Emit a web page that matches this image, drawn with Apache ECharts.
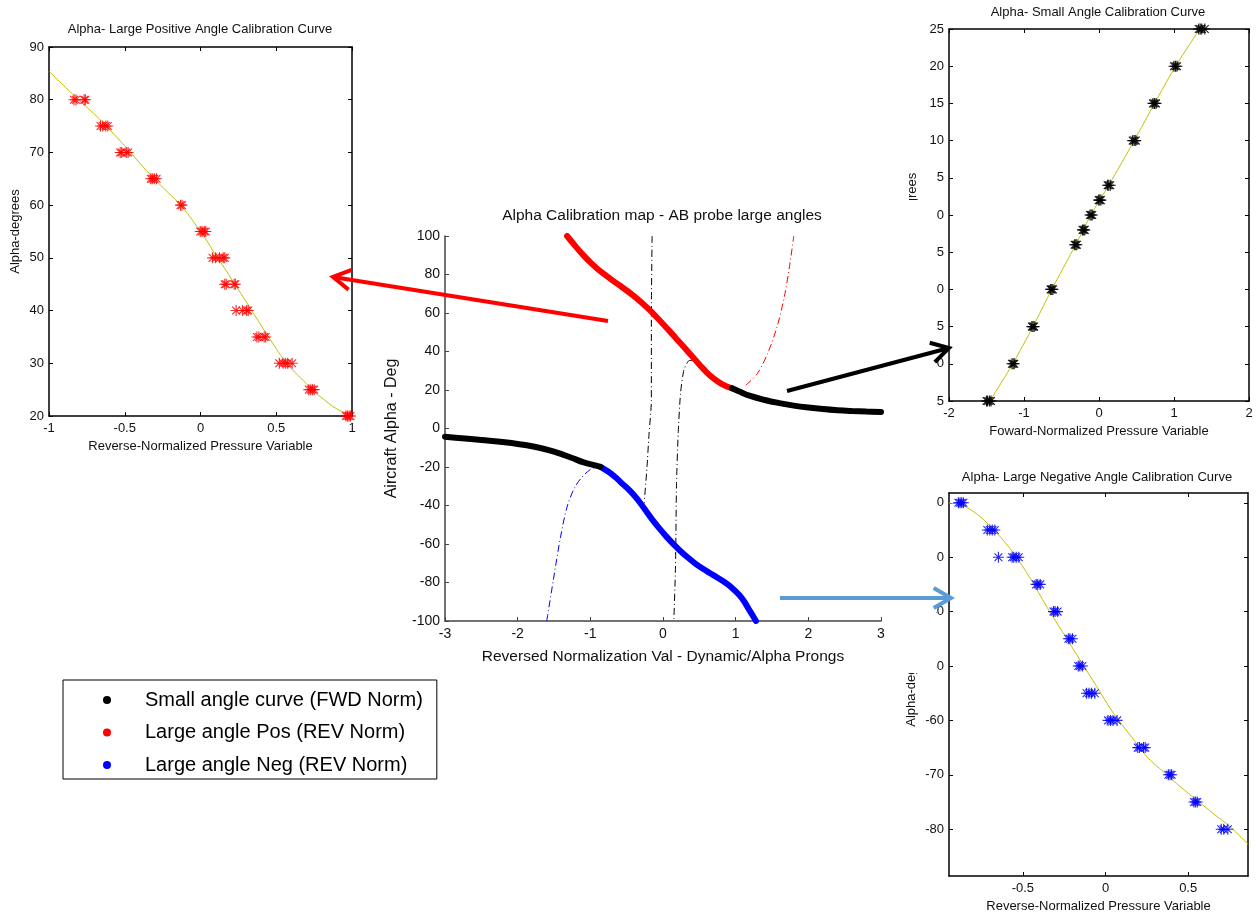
<!DOCTYPE html>
<html><head><meta charset="utf-8">
<script src="https://cdn.jsdelivr.net/npm/echarts@6.0.0/dist/echarts.min.js"></script>
<style>html,body{margin:0;padding:0;background:#fff}#c{width:1260px;height:915px}</style>
</head><body><div id="c"></div>
<script>
// ---------- DATA ----------
// Top-left: large positive angle calibration (red stars + fit)
const posStars = [[-0.835,80],[-0.822,80],[-0.768,80],[-0.76,80],
  [-0.66,75],[-0.645,75],[-0.625,75],[-0.612,75],
  [-0.53,70],[-0.52,70],[-0.49,70],[-0.478,70],
  [-0.328,65],[-0.318,65],[-0.305,65],[-0.29,65],
  [-0.132,60],[-0.122,60],
  [-0.002,55],[0.01,55],[0.025,55],[0.035,55],
  [0.08,50],[0.1,50],[0.125,50],[0.15,50],[0.16,50],
  [0.16,45],[0.17,45],[0.222,45],[0.23,45],
  [0.235,40],[0.278,40],[0.305,40],[0.315,40],
  [0.372,35],[0.385,35],[0.42,35],[0.43,35],
  [0.52,30],[0.545,30],[0.56,30],[0.575,30],[0.605,30],
  [0.715,25],[0.728,25],[0.74,25],[0.75,25],
  [0.96,20],[0.97,20],[0.98,20],[0.99,20]];
const posFit = [[-1,85.4],[-0.824,80.5],[-0.669,76.4],[-0.515,71.7],[-0.42,68.6],[-0.339,66],[-0.24,63.1],
  [-0.14,60.3],[-0.07,57.8],[-0.008,55.3],[0.05,52.9],[0.1,50.5],[0.16,48],[0.213,45.6],[0.27,43.1],
  [0.323,40.7],[0.38,38.1],[0.433,35.7],[0.49,33.2],[0.544,30.9],[0.6,29],[0.654,27.4],[0.71,25.8],
  [0.764,24.3],[0.82,23],[0.874,21.8],[0.93,20.9],[0.97,20.5],[1,20.4]];

// Top-right: small angle calibration (black stars + fit)
const smallStars = [[1.33,25],[1.35,25],[1.37,25],[1.41,25],
  [1.0,20],[1.02,20],[1.04,20],[0.72,15],[0.74,15],[0.76,15],
  [0.45,10],[0.47,10],[0.49,10],[0.115,4],[0.13,4],[0.15,4],
  [-0.005,2],[0.01,2],[0.025,2],[-0.12,0],[-0.105,0],[-0.09,0],
  [-0.22,-2],[-0.205,-2],[-0.19,-2],[-0.325,-4],[-0.31,-4],[-0.295,-4],
  [-0.645,-10],[-0.63,-10],[-0.615,-10],[-0.895,-15],[-0.88,-15],[-0.865,-15],
  [-1.16,-20],[-1.145,-20],[-1.13,-20],[-1.5,-25],[-1.485,-25],[-1.46,-25],[-1.44,-25]];
const smallFit = [[-1.454,-25],[-1.15,-20],[-0.88,-15],[-0.63,-10],[-0.31,-4],[-0.11,0],[0.13,4],
  [0.47,10],[0.74,15],[1.02,20],[1.343,25]];

// Bottom-right: large negative angle calibration (blue stars + fit)
const negStars = [[-0.89,-20],[-0.88,-20],[-0.87,-20],[-0.86,-20],
  [-0.715,-25],[-0.7,-25],[-0.685,-25],[-0.67,-25],
  [-0.648,-30],[-0.565,-30],[-0.555,-30],[-0.54,-30],[-0.525,-30],
  [-0.42,-35],[-0.41,-35],[-0.395,-35],[-0.315,-40],[-0.305,-40],[-0.29,-40],
  [-0.225,-45],[-0.215,-45],[-0.2,-45],[-0.165,-50],[-0.155,-50],[-0.14,-50],
  [-0.115,-55],[-0.1,-55],[-0.085,-55],[-0.065,-55],
  [0.015,-60],[0.03,-60],[0.045,-60],[0.07,-60],
  [0.195,-65],[0.205,-65],[0.23,-65],[0.24,-65],
  [0.38,-70],[0.39,-70],[0.4,-70],[0.535,-75],[0.545,-75],[0.555,-75],
  [0.7,-80],[0.715,-80],[0.74,-80]];
const negFit = [[-0.947,-20.1],[-0.881,-20.3],[-0.82,-21.2],[-0.76,-22.5],[-0.659,-25.5],[-0.558,-29.2],
  [-0.457,-33.8],[-0.356,-39.1],[-0.255,-44],[-0.154,-48.9],[-0.053,-53.8],[0.048,-58.7],[0.149,-62.7],
  [0.251,-66.7],[0.352,-69.5],[0.453,-72.2],[0.554,-74.7],[0.655,-77.2],[0.756,-79.6],[0.863,-82.8]];

// Centre: calibration map
const posCurve = [[-1.32,100],[-1.2,94.5],[-1.1,90.2],[-1.0,86.3],[-0.9,82.9],[-0.8,79.9],[-0.7,77.1],
  [-0.6,74.4],[-0.5,71.7],[-0.4,68.8],[-0.3,65.6],[-0.2,62.1],[-0.1,58.3],[0,54.3],[0.1,50.2],[0.2,46.0],
  [0.3,41.8],[0.4,37.5],[0.5,33.3],[0.6,29.2],[0.7,25.9],[0.8,23.3],[0.9,21.5],[0.95,20.9]];
const smallCurveR = [[0.95,20.9],[1.05,19.2],[1.2,16.9],[1.4,14.8],[1.6,13.2],[1.8,11.9],[2.0,10.9],
  [2.2,10.1],[2.4,9.5],[2.6,9.1],[2.8,8.8],[3,8.6]];
const smallCurveL = [[-3,-4.3],[-2.5,-6.0],[-2.0,-8.0],[-1.75,-9.6],[-1.5,-12.0],[-1.25,-15.3],
  [-1.1,-17.5],[-0.95,-19.0],[-0.86,-19.9]];
const negCurve = [[-0.86,-19.9],[-0.75,-22.5],[-0.65,-25.5],[-0.55,-29.0],[-0.45,-32.5],[-0.35,-36.8],
  [-0.25,-42.0],[-0.15,-47.2],[-0.05,-51.9],[0.05,-56.3],[0.15,-60.3],[0.25,-64.0],[0.35,-67.3],
  [0.45,-70.3],[0.55,-72.9],[0.65,-75.2],[0.75,-77.5],[0.85,-79.9],[0.95,-82.8],[1.05,-86.5],
  [1.12,-90.0],[1.18,-93.8],[1.24,-97.5],[1.28,-100]];
const posExt = [[1.14,22.5],[1.3,28.6],[1.44,39],[1.57,52.9],[1.67,68.5],[1.74,84],[1.8,100]];
const negExt = [[-1.6,-100],[-1.51,-78.9],[-1.41,-56.3],[-1.32,-40.7],[-1.22,-31],[-1.12,-25.5],[-1.0,-21.3],[-0.9,-19.9]];
const zeroLineA = [[-0.15,100],[-0.16,60],[-0.16,14.7],[-0.195,-4.3],[-0.22,-20],[-0.26,-39]];
const zeroLineB = [[0.40,35.3],[0.36,35.3],[0.287,30.3],[0.241,18.2],[0.209,-2.6],[0.186,-28.6],[0.172,-71.9],[0.149,-100]];

// Tick values
const p0XTicks = [-1,-0.5,0,0.5,1], p0YTicks = [20,30,40,50,60,70,80,90];
const p1XTicks = [-2,-1,0,1,2], p1YTicks = [-25,-20,-15,-10,-5,0,5,10,15,20,25];
const p2XTicks = [-0.5,0,0.5], p2YTicks = [-80,-70,-60,-50,-40,-30,-20];
const p3XTicks = [-3,-2,-1,0,1,2,3], p3YTicks = [-100,-80,-60,-40,-20,0,20,40,60,80,100];

const legendNames = ['Small angle curve (FWD Norm)','Large angle Pos (REV Norm)','Large angle Neg (REV Norm)'];

// ---------- CHART ----------
const FONT = '"Liberation Sans", Arial, sans-serif';
const STAR = 'path://M0,9H20V11H0Z M9,0H11V20H9Z M2.2,3.6L3.6,2.2L17.8,16.4L16.4,17.8Z M16.4,2.2L17.8,3.6L3.6,17.8L2.2,16.4Z';
const FIT = '#c4c000';

function xAx(grid, min, max, ticks, opt) {
  opt = opt || {};
  const col = opt.color || '#000';
  return {
    type: 'value', gridIndex: grid, min: min, max: max, position: opt.top ? 'top' : 'bottom',
    axisLine: {show: true, onZero: false, lineStyle: {color: col, width: opt.lw || 1.5}},
    axisTick: {show: true, inside: true, length: 4, customValues: ticks, lineStyle: {color: col}},
    axisLabel: {show: !opt.top, customValues: ticks, margin: opt.margin || 6, color: '#111',
      fontSize: opt.fs || 13, fontFamily: FONT, showMinLabel: true, showMaxLabel: true},
    splitLine: {show: false},
    name: opt.top ? '' : opt.name, nameLocation: 'middle', nameGap: opt.nameGap || 24,
    nameTextStyle: {fontSize: opt.nfs || 13, fontFamily: FONT, color: '#111'},
    z: opt.z || 0
  };
}
function yAx(grid, min, max, ticks, opt) {
  opt = opt || {};
  const col = opt.color || '#000';
  return {
    type: 'value', gridIndex: grid, min: min, max: max, position: opt.right ? 'right' : 'left',
    axisLine: {show: true, onZero: false, lineStyle: {color: col, width: opt.lw || 1.5}},
    axisTick: {show: true, inside: true, length: 4, customValues: ticks, lineStyle: {color: col}},
    axisLabel: {show: !opt.right, customValues: ticks, margin: opt.margin || 5, color: '#111',
      fontSize: opt.fs || 13, fontFamily: FONT, showMinLabel: true, showMaxLabel: true},
    splitLine: {show: false},
    name: opt.right ? '' : opt.name, nameLocation: 'middle', nameGap: opt.nameGap || 28,
    nameTextStyle: {fontSize: opt.nfs || 13, fontFamily: FONT, color: '#111'},
    z: opt.z || 0
  };
}

function arrow(tail, tip, color, w, len, ang) {
  const a = Math.atan2(tail[1] - tip[1], tail[0] - tip[0]);
  const r = ang * Math.PI / 180;
  const p1 = [tip[0] + len * Math.cos(a + r), tip[1] + len * Math.sin(a + r)];
  const p2 = [tip[0] + len * Math.cos(a - r), tip[1] + len * Math.sin(a - r)];
  return [
    {type: 'line', z: 100, shape: {x1: tail[0], y1: tail[1], x2: tip[0], y2: tip[1]}, style: {stroke: color, lineWidth: w}},
    {type: 'polyline', z: 100, shape: {points: [p1, tip, p2]}, style: {stroke: color, lineWidth: w, fill: null}}
  ];
}

const titleStyle = {fontSize: 13, fontWeight: 'normal', fontFamily: FONT, color: '#111'};

const option = {
  animation: false,
  backgroundColor: '#fff',
  title: [
    {text: 'Alpha- Large Positive Angle Calibration Curve', left: 200, top: 23, textAlign: 'center', padding: 0, textStyle: titleStyle},
    {text: 'Alpha- Small Angle Calibration Curve', left: 1098, top: 6, textAlign: 'center', padding: 0, textStyle: titleStyle},
    {text: 'Alpha- Large Negative Angle Calibration Curve', left: 1097, top: 471, textAlign: 'center', padding: 0, textStyle: titleStyle},
    {text: 'Alpha Calibration map - AB probe large angles', left: 662, top: 208, textAlign: 'center', padding: 0,
      textStyle: {fontSize: 15.5, fontWeight: 'normal', fontFamily: FONT, color: '#111'}}
  ],
  legend: {
    data: legendNames.map(n => ({name: n, icon: 'circle'})),
    orient: 'vertical', left: 63, top: 680,
    padding: [10, 14, 4, 40], itemGap: 12.5, itemWidth: 66, itemHeight: 8,
    borderColor: '#000', borderWidth: 1, selectedMode: false,
    textStyle: {fontSize: 20, fontFamily: FONT, color: '#000'}
  },
  grid: [
    {left: 49, top: 47, width: 303, height: 369},
    {left: 949, top: 29, width: 300, height: 372},
    {left: 949, top: 493, width: 299, height: 383},
    {left: 445, top: 236, width: 436, height: 385}
  ],
  xAxis: [
    xAx(0, -1, 1, p0XTicks, {name: 'Reverse-Normalized Pressure Variable', nameGap: 24}),
    xAx(0, -1, 1, p0XTicks, {top: true}),
    xAx(1, -2, 2, p1XTicks, {name: 'Foward-Normalized Pressure Variable', nameGap: 24}),
    xAx(1, -2, 2, p1XTicks, {top: true}),
    xAx(2, -0.947, 0.862, p2XTicks, {name: 'Reverse-Normalized Pressure Variable', nameGap: 24}),
    xAx(2, -0.947, 0.862, p2XTicks, {top: true}),
    xAx(3, -3, 3, p3XTicks, {name: 'Reversed Normalization Val - Dynamic/Alpha Prongs', nameGap: 28, fs: 14, nfs: 15.5, color: '#444', margin: 6})
  ],
  yAxis: [
    yAx(0, 20, 90, p0YTicks, {name: 'Alpha-degrees', nameGap: 27}),
    yAx(0, 20, 90, p0YTicks, {right: true}),
    yAx(1, -25, 25, p1YTicks, {name: 'Alpha-degrees', nameGap: 30}),
    yAx(1, -25, 25, p1YTicks, {right: true}),
    yAx(2, -88.6, -18.2, p2YTicks, {name: 'Alpha-degrees', nameGap: 31}),
    yAx(2, -88.6, -18.2, p2YTicks, {right: true}),
    yAx(3, -100, 100, p3YTicks, {name: 'Aircraft Alpha - Deg', nameGap: 45, fs: 14, nfs: 16, color: '#444', margin: 5})
  ],
  series: [
    // top-left
    {type: 'line', xAxisIndex: 0, yAxisIndex: 0, data: posFit, smooth: 0.3, symbol: 'none',
      lineStyle: {color: FIT, width: 1}, z: 2},
    {type: 'scatter', xAxisIndex: 0, yAxisIndex: 0, data: posStars, symbol: STAR, symbolSize: 11,
      itemStyle: {color: '#ff0000', opacity: 0.85}, z: 3},
    // top-right
    {type: 'line', xAxisIndex: 2, yAxisIndex: 2, data: smallFit, smooth: 0.2, symbol: 'none',
      lineStyle: {color: FIT, width: 1}, z: 2},
    {type: 'scatter', xAxisIndex: 2, yAxisIndex: 2, data: smallStars, symbol: STAR, symbolSize: 11,
      itemStyle: {color: '#000', opacity: 0.9}, z: 3},
    // bottom-right
    {type: 'line', xAxisIndex: 4, yAxisIndex: 4, data: negFit, smooth: 0.3, symbol: 'none',
      lineStyle: {color: FIT, width: 1}, z: 2},
    {type: 'scatter', xAxisIndex: 4, yAxisIndex: 4, data: negStars, symbol: STAR, symbolSize: 11,
      itemStyle: {color: '#0000ff', opacity: 0.85}, z: 3},
    // centre: thin dash-dot lines
    {type: 'line', xAxisIndex: 6, yAxisIndex: 6, data: posExt, smooth: 0.3, symbol: 'none',
      lineStyle: {color: '#ff0000', width: 1, type: [7, 3, 1, 3]}, z: 2},
    {type: 'line', xAxisIndex: 6, yAxisIndex: 6, data: negExt, smooth: 0.3, symbol: 'none',
      lineStyle: {color: '#0000ff', width: 1, type: [7, 3, 1, 3]}, z: 2},
    {type: 'line', xAxisIndex: 6, yAxisIndex: 6, data: zeroLineA, smooth: 0.2, symbol: 'none',
      lineStyle: {color: '#000', width: 1, type: [7, 3, 1, 3]}, z: 2},
    {type: 'line', xAxisIndex: 6, yAxisIndex: 6, data: zeroLineB, smooth: 0.2, symbol: 'none',
      lineStyle: {color: '#000', width: 1, type: [7, 3, 1, 3]}, z: 2},
    // centre: thick calibration curves
    {name: legendNames[1], type: 'line', xAxisIndex: 6, yAxisIndex: 6, data: posCurve, smooth: 0.4, symbol: 'none',
      lineStyle: {color: '#ff0000', width: 6, cap: 'round'}, itemStyle: {color: '#ff0000'}, z: 3},
    {name: legendNames[2], type: 'line', xAxisIndex: 6, yAxisIndex: 6, data: negCurve, smooth: 0.4, symbol: 'none',
      lineStyle: {color: '#0000ff', width: 6, cap: 'round'}, itemStyle: {color: '#0000ff'}, z: 3},
    {name: legendNames[0], type: 'line', xAxisIndex: 6, yAxisIndex: 6, data: smallCurveR, smooth: 0.4, symbol: 'none',
      lineStyle: {color: '#000', width: 6, cap: 'round'}, itemStyle: {color: '#000'}, z: 4},
    {name: legendNames[0], type: 'line', xAxisIndex: 6, yAxisIndex: 6, data: smallCurveL, smooth: 0.4, symbol: 'none',
      lineStyle: {color: '#000', width: 6, cap: 'round'}, itemStyle: {color: '#000'}, z: 4}
  ],
  graphic: [
    // the centre picture overlaps the left edge of the right-hand panels
    {type: 'rect', z: 50, shape: {x: 886, y: 200, width: 50, height: 473}, style: {fill: '#fff'}},
  ].concat(
    arrow([608, 321], [333, 277], '#ff0000', 4, 20, 30),
    arrow([787, 391], [949, 348], '#000000', 4, 20, 30),
    arrow([780, 598], [951, 598], '#5b9bd5', 4, 20, 30)
  )
};

const chart = echarts.init(document.getElementById('c'), null, {renderer: 'canvas'});
chart.setOption(option);
</script></body></html>
